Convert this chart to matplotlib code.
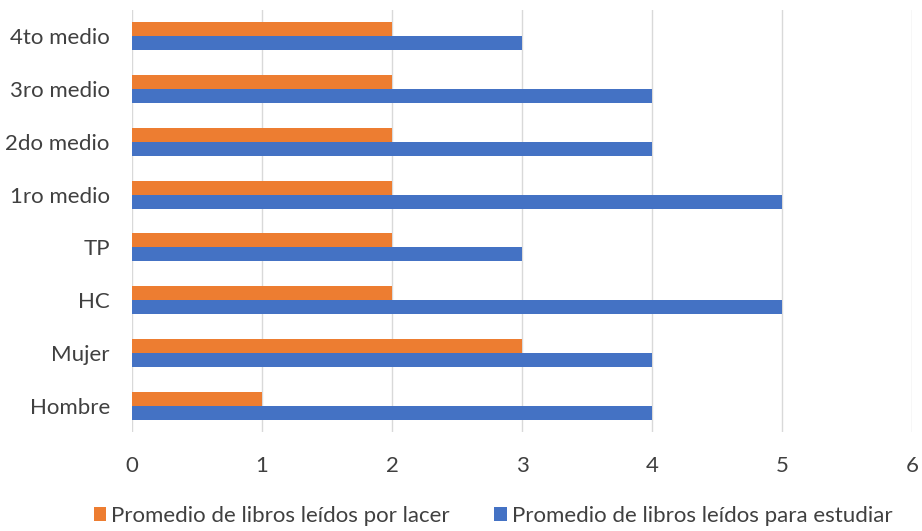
import matplotlib.pyplot as plt
import numpy as np

categories = ["Hombre", "Mujer", "HC", "TP", "1ro medio", "2do medio", "3ro medio", "4to medio"]
estudiar = [4, 4, 5, 3, 5, 4, 4, 3]
placer = [1, 3, 2, 2, 2, 2, 2, 2]

plt.rcParams['font.family'] = ['Lato', 'DejaVu Sans']

fig = plt.figure(figsize=(9.22, 5.31), dpi=100)
ax = fig.add_axes([132 / 922, 1 - 432 / 531, 780 / 922, 422 / 531])

y = np.arange(len(categories))
h = 0.265
ax.barh(y - h / 2, estudiar, height=h, color='#4472C4',
        label='Promedio de libros leídos para estudiar', zorder=3)
ax.barh(y + h / 2, placer, height=h, color='#ED7D31',
        label='Promedio de libros leídos por lacer', zorder=3)

ax.set_xlim(0, 6)
ax.set_ylim(-0.5, len(categories) - 0.5)
ax.set_yticks(y)
ax.set_yticklabels(categories)
ax.set_xticks(range(7))
ax.grid(axis='x', color='#D9D9D9', linewidth=1, zorder=0)
for s in ax.spines.values():
    s.set_visible(False)
ax.tick_params(length=0, labelsize=16, colors='#404040')
ax.tick_params(axis='x', pad=17)
ax.tick_params(axis='y', pad=16)

handles, labels = ax.get_legend_handles_labels()
fig.legend(handles[::-1], labels[::-1], loc='lower center', ncol=2,
           bbox_to_anchor=(0.535, -0.028), frameon=False, fontsize=16,
           handlelength=0.55, handleheight=0.55, handletextpad=0.25, columnspacing=2.0,
           labelcolor='#404040')

fig.savefig('out.png', dpi=100)
